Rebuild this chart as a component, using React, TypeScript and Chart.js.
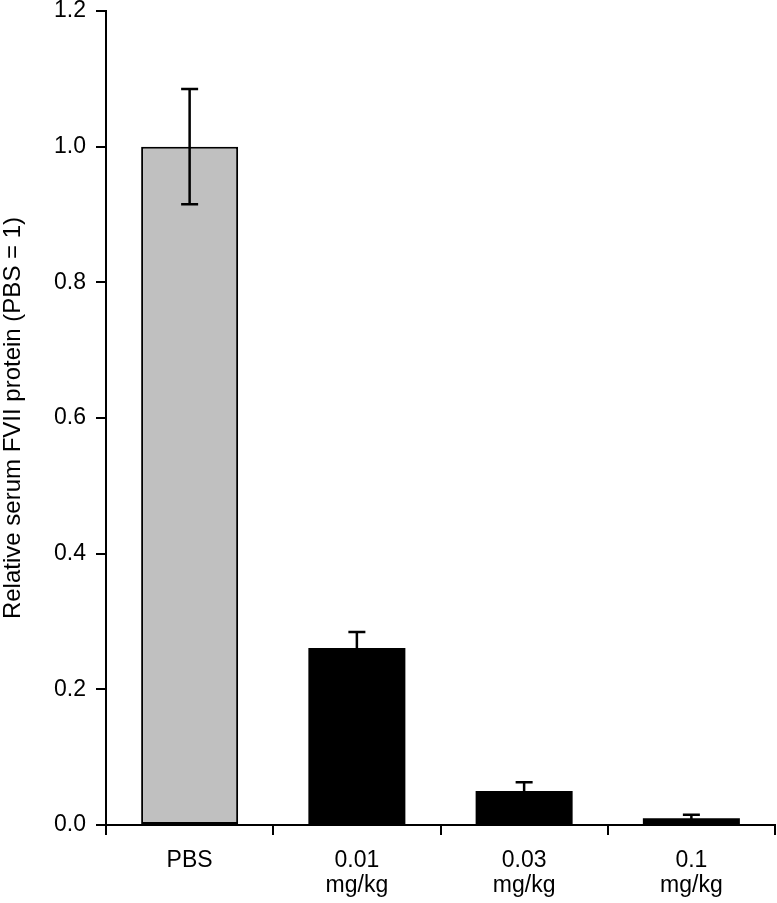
import React, { useEffect, useRef } from "react";
import { Chart, registerables } from "chart.js";

Chart.register(...registerables);

const categories: (string | string[])[] = ["PBS", ["0.01", "mg/kg"], ["0.03", "mg/kg"], ["0.1", "mg/kg"]];
const values: number[] = [1.0, 0.261, 0.05, 0.01];
const errors: number[] = [0.085, 0.0235, 0.013, 0.005];
const barColors: string[] = ["#c0c0c0", "#000000", "#000000", "#000000"];
const yTicks: number[] = [0, 0.2, 0.4, 0.6, 0.8, 1.0, 1.2];
const yTitle = "Relative serum FVII protein (PBS = 1)";

const FONT = "'Liberation Sans', Arial, Helvetica, sans-serif";

const errorBarPlugin = {
  id: "errorBars",
  afterDatasetsDraw(chart: any) {
    const meta = chart.getDatasetMeta(0);
    const yScale = chart.scales.y;
    const ctx = chart.ctx;
    ctx.save();
    ctx.strokeStyle = "#000";
    ctx.lineWidth = 2.5;
    meta.data.forEach((bar: any, i: number) => {
      const v = values[i];
      const e = errors[i];
      const x = bar.x;
      const yTop = yScale.getPixelForValue(v + e);
      const yBot = yScale.getPixelForValue(v - e);
      const half = 8.5;
      ctx.beginPath();
      ctx.moveTo(x, yBot);
      ctx.lineTo(x, yTop);
      ctx.moveTo(x - half, yTop);
      ctx.lineTo(x + half, yTop);
      ctx.moveTo(x - half, yBot);
      ctx.lineTo(x + half, yBot);
      ctx.stroke();
    });
    ctx.restore();
  },
};

export default function App() {
  const canvasRef = useRef<HTMLCanvasElement | null>(null);

  useEffect(() => {
    if (!canvasRef.current) return;
    const chart = new Chart(canvasRef.current, {
      type: "bar",
      data: {
        labels: categories as any,
        datasets: [
          {
            data: values,
            backgroundColor: barColors,
            borderColor: ["#000", "#000", "#000", "#000"],
            borderWidth: [2, 0, 0, 0],
            borderSkipped: false,
            barPercentage: 0.58,
            categoryPercentage: 1.0,
          },
        ],
      },
      options: {
        animation: false,
        responsive: false,
        devicePixelRatio: 1,
        layout: { padding: { top: 11, right: 2, left: 0, bottom: 0 } },
        plugins: {
          legend: { display: false },
          tooltip: { enabled: false },
        },
        scales: {
          x: {
            offset: true,
            grid: {
              display: true,
              offset: true,
              drawOnChartArea: false,
              drawTicks: true,
              tickLength: 10,
              lineWidth: 2,
              color: "#000",
            },
            border: { display: true, color: "#000", width: 2 },
            ticks: {
              color: "#000",
              padding: 13,
              maxRotation: 0,
              autoSkip: false,
              font: { family: FONT, size: 23, lineHeight: 1.1 },
            },
            afterFit: (scale: any) => {
              scale.height = 78;
              scale.paddingLeft = 0;
              scale.paddingRight = 0;
            },
          },
          y: {
            min: 0,
            max: 1.2,
            afterBuildTicks: (scale: any) => {
              scale.ticks = yTicks.map((v) => ({ value: v }));
            },
            grid: {
              display: true,
              drawOnChartArea: false,
              drawTicks: true,
              tickLength: 10,
              lineWidth: 2,
              color: "#000",
            },
            border: { display: true, color: "#000", width: 2 },
            ticks: {
              color: "#000",
              padding: 10,
              font: { family: FONT, size: 23, lineHeight: 0.95 },
              callback: (v: any) => Number(v).toFixed(1),
            },
            title: {
              display: true,
              text: yTitle,
              color: "#000",
              padding: 0,
              font: { family: FONT, size: 24, lineHeight: 1.15 },
            },
            afterFit: (scale: any) => {
              scale.width = 106;
              scale.paddingTop = 0;
              scale.paddingBottom = 0;
            },
          },
        },
      },
      plugins: [errorBarPlugin],
    });
    return () => chart.destroy();
  }, []);

  return (
    <div style={{ position: "absolute", left: 0, top: 0, width: 777, height: 903, background: "#fff" }}>
      <canvas ref={canvasRef} width={777} height={903} style={{ display: "block" }} />
    </div>
  );
}
